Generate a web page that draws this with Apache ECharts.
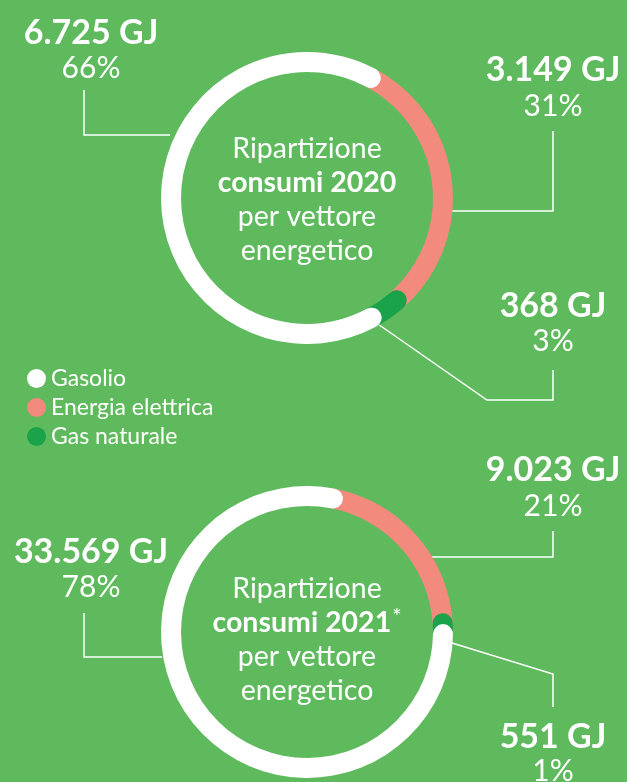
<!DOCTYPE html>
<html lang="it">
<head>
<meta charset="UTF-8">
<title>consumi</title>
<script src="https://cdn.jsdelivr.net/npm/echarts@6/dist/echarts.min.js"></script>
<style>
  html, body { margin: 0; padding: 0; background: #5eba5c; }
  #chart { width: 627px; height: 782px; }
</style>
</head>
<body>
<div id="chart"></div>
<script>
// dati
var categories = ['Gasolio', 'Energia elettrica', 'Gas naturale']
var years = ['2020', '2021']
var gj2020 = [6725, 3149, 368]
var pct2020 = [66, 31, 3]
var gj2021 = [33569, 9023, 551]
var pct2021 = [78, 21, 1]
var colors = ['#ffffff', '#f28a7e', '#1ba34b']

var font = 'Lato, "Open Sans", sans-serif'
var gj = [gj2020, gj2021]
var pct = [pct2020, pct2021]

// anelli: centro, rotazione, spostamento del testo centrale
var rings = [
    { center: [307, 198], startAngle: 62, textDy: 2 },
    { center: [307, 632], startAngle: 79, textDy: 8 }
]
// ordine in senso orario: elettrica, gas, gasolio ; z per sovrapporre i cap
var stackOrder = [1, 2, 0]
var zOrder = { 1: 1, 2: 2, 0: 3 }

// posizione etichette [x, yValore, yPercentuale] e linee guida
var labelPos = [
    [[91, 33, 68], [553, 70, 106], [553, 306, 341]],
    [[91, 552, 587], [553, 470, 506], [553, 737, 771]]
]
var leaders = [
    [[[84, 90], [84, 135], [170, 135]],
     [[553, 131], [553, 211], [452, 211]],
     [[553, 370], [553, 400], [487, 400], [375, 322]]],
    [[[84, 613], [84, 657], [162, 657]],
     [[553, 531], [553, 557], [430, 557]],
     [[553, 707], [553, 674], [452, 643]]]
]

function fmt(n) {
    return String(n).replace(/\B(?=(\d{3})+(?!\d))/g, '.')
}
function sum(a) {
    return a.reduce(function (s, v) { return s + v }, 0)
}

var polar = [], angleAxis = [], radiusAxis = [], series = [], graphic = []

rings.forEach(function (r, i) {
    polar.push({ center: r.center, radius: [126, 146] })
    angleAxis.push({
        polarIndex: i, type: 'value', min: 0, max: sum(gj[i]),
        startAngle: r.startAngle, clockwise: true, show: false
    })
    radiusAxis.push({ polarIndex: i, type: 'category', data: [years[i]], show: false })
    stackOrder.forEach(function (k) {
        series.push({
            type: 'bar',
            name: categories[k],
            coordinateSystem: 'polar',
            polarIndex: i,
            stack: 'anello' + i,
            roundCap: true,
            barWidth: 20,
            z: zOrder[k],
            itemStyle: { color: colors[k] },
            data: [gj[i][k]]
        })
    })

    // testo al centro
    graphic.push({
        type: 'text',
        x: r.center[0],
        y: r.center[1] + r.textDy,
        style: {
            text: '{a|Ripartizione}\n{b|consumi ' + years[i] + '}' + (i === 1 ? '{s|*}' : '') +
                '\n{a|per vettore}\n{a|energetico}',
            align: 'center',
            verticalAlign: 'middle',
            fill: '#fff',
            rich: {
                a: { fontFamily: font, fontSize: 28.5, lineHeight: 34, fill: '#fff' },
                b: { fontFamily: font, fontSize: 28.5, fontWeight: 'bold', lineHeight: 34, fill: '#fff' },
                s: { fontFamily: font, fontSize: 22, lineHeight: 34, verticalAlign: 'top', fill: '#fff', padding: [0, 0, 0, 1] }
            }
        }
    })

    // etichette e linee
    categories.forEach(function (c, k) {
        var p = labelPos[i][k]
        graphic.push({
            type: 'text', x: p[0], y: p[1],
            style: {
                text: fmt(gj[i][k]) + ' GJ', align: 'center', verticalAlign: 'middle',
                fill: '#fff', fontFamily: font, fontWeight: 'bold', fontSize: 34
            }
        })
        graphic.push({
            type: 'text', x: p[0], y: p[2],
            style: {
                text: pct[i][k] + '%', align: 'center', verticalAlign: 'middle',
                fill: '#fff', fontFamily: font, fontSize: 30
            }
        })
        graphic.push({
            type: 'polyline',
            shape: { points: leaders[i][k] },
            style: { stroke: '#fff', lineWidth: 1.5, fill: null }
        })
    })
})

var myCharts = echarts.init(document.getElementById('chart'))
myCharts.setOption({
    backgroundColor: '#5eba5c',
    animation: false,
    legend: {
        data: categories,
        orient: 'vertical',
        left: 22,
        top: 362,
        icon: 'circle',
        itemWidth: 19,
        itemHeight: 19,
        itemGap: 6,
        selectedMode: false,
        textStyle: { color: '#fff', fontFamily: font, fontSize: 23, padding: [0, 0, 0, 0] }
    },
    polar: polar,
    angleAxis: angleAxis,
    radiusAxis: radiusAxis,
    series: series,
    graphic: graphic
})
</script>
</body>
</html>
